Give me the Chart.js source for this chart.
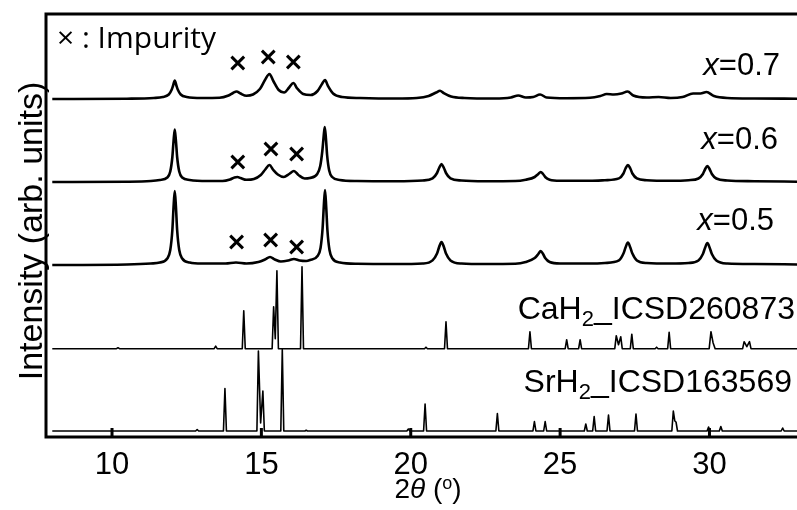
<!DOCTYPE html>
<html>
<head>
<meta charset="utf-8">
<script src="https://cdn.jsdelivr.net/npm/chart.js@4/dist/chart.umd.min.js"></script>
<style>
  html, body { margin: 0; padding: 0; background: #fff; overflow: hidden; }
  canvas { display: block; }
</style>
</head>
<body>
<canvas id="xrd" width="797" height="510"></canvas>
<script>
// 2theta range and bottom tick values
const X_MIN = 7.79;
const X_MAX = 32.93;
const xTicks = [10, 15, 20, 25, 30];

// vertical offsets of each stacked pattern
const offsets = { x07: 338, x06: 255, x05: 172, cah2: 88.3, srh2: 6 };

// measured patterns, [2theta, intensity above own baseline]
const x07 = [
  [8.0, 0], [10.5, 0.3], [11.4, 1], [11.7, 2], [11.9, 4.5], [12.0, 9.5], [12.05, 14], [12.1, 18.5],
  [12.15, 14], [12.2, 9.5], [12.3, 4.5], [12.5, 2], [13.0, 1], [13.6, 1.2], [13.9, 3.5], [14.05, 6],
  [14.17, 7.5], [14.3, 5.5], [14.5, 3.2], [14.72, 4.5], [14.95, 10], [15.12, 19], [15.27, 25],
  [15.4, 18], [15.58, 9], [15.76, 6.5], [15.93, 11.5], [16.07, 16], [16.2, 10.5], [16.4, 5],
  [16.65, 4], [16.88, 8], [17.03, 15], [17.13, 19], [17.23, 13], [17.4, 5.5], [17.7, 2], [18.3, 1],
  [19.5, 0.5], [20.2, 1], [20.6, 3], [20.85, 6.5], [20.98, 8.3], [21.1, 6], [21.35, 2.5], [21.8, 1],
  [22.8, 0.5], [23.35, 1.5], [23.6, 3.5], [23.85, 1.5], [24.1, 2], [24.33, 4.5], [24.55, 1.5],
  [25.2, 0.8], [26.0, 1.2], [26.35, 3], [26.56, 5], [26.8, 4.5], [27.05, 5.5], [27.26, 7.5],
  [27.45, 3.5], [27.9, 1.5], [28.3, 2], [28.7, 1], [29.1, 2], [29.45, 5.5], [29.7, 5.5], [29.9, 7],
  [30.15, 3], [30.6, 1], [31.5, 0.5], [33, 0.3]
];
const x06 = [
  [8.0, 0], [10.5, 0.3], [11.3, 1], [11.6, 2], [11.85, 4.5], [11.95, 10.5], [12.02, 25], [12.06, 41],
  [12.1, 52.5], [12.14, 41], [12.18, 25], [12.25, 10.5], [12.35, 4.5], [12.6, 2], [13.2, 1], [13.7, 1],
  [13.95, 2.5], [14.1, 4.5], [14.2, 5], [14.3, 4], [14.5, 2.2], [14.75, 3], [14.98, 7], [15.13, 12.5],
  [15.27, 17], [15.4, 12], [15.55, 7.5], [15.75, 5], [15.93, 8], [16.09, 11], [16.24, 7], [16.45, 3.5],
  [16.62, 4], [16.87, 8], [16.97, 16], [17.04, 31], [17.08, 44], [17.12, 55], [17.16, 44], [17.2, 27],
  [17.27, 11.5], [17.37, 5], [17.62, 2], [18.2, 1], [19.5, 0.8], [20.4, 1.5], [20.73, 3.6], [20.88, 9],
  [20.95, 14], [21.03, 18], [21.11, 14], [21.18, 9], [21.33, 3.6], [21.7, 1.5], [22.5, 0.8], [23.5, 1],
  [23.85, 2.3], [24.15, 5], [24.27, 8], [24.35, 10], [24.43, 8], [24.5, 5], [24.65, 2.3], [25.0, 1.2],
  [26.0, 1.2], [26.5, 1.8], [26.97, 3.6], [27.12, 8.5], [27.19, 13.5], [27.27, 17], [27.35, 13.5],
  [27.42, 8.5], [27.57, 3.6], [27.9, 1.8], [28.7, 1.2], [29.3, 1.8], [29.63, 3.5], [29.78, 8],
  [29.85, 12.5], [29.93, 16], [30.01, 12.5], [30.08, 8], [30.23, 3.5], [30.6, 1.5], [31.5, 0.8], [33, 0.3]
];
const x05 = [
  [8.0, 0], [10.5, 0.5], [11.3, 1.5], [11.6, 2.5], [11.85, 6.5], [11.95, 15], [12.02, 35], [12.06, 58],
  [12.1, 74], [12.14, 58], [12.18, 35], [12.25, 15], [12.35, 6.5], [12.6, 2.5], [13.0, 1.5], [13.8, 1.5],
  [14.15, 2.5], [14.5, 1.5], [14.9, 3], [15.12, 5.5], [15.29, 8], [15.45, 5.5], [15.65, 3.5], [15.9, 4.5],
  [16.09, 6], [16.28, 4.5], [16.5, 4], [16.63, 5], [16.88, 9], [16.98, 17], [17.05, 37], [17.09, 59],
  [17.13, 75], [17.17, 58], [17.21, 35], [17.28, 15], [17.38, 6.5], [17.63, 2.5], [18.2, 1.2], [19.5, 1],
  [20.4, 1.5], [20.73, 4.6], [20.88, 11.5], [20.95, 18], [21.03, 23], [21.11, 18], [21.18, 11.5],
  [21.33, 4.6], [21.7, 1.5], [22.5, 1], [23.5, 1.2], [23.85, 3], [24.15, 7], [24.27, 11], [24.35, 14],
  [24.43, 11], [24.5, 7], [24.65, 3], [25.0, 1.5], [26.0, 1.5], [26.5, 2], [26.97, 4.6], [27.12, 11.5],
  [27.19, 17.5], [27.27, 22.5], [27.35, 17.5], [27.42, 11.5], [27.57, 4.6], [27.9, 2], [28.7, 1.5],
  [29.3, 2], [29.63, 4.5], [29.78, 11], [29.85, 17], [29.93, 22], [30.01, 17], [30.08, 11], [30.23, 4.5],
  [30.6, 1.5], [31.5, 1], [33, 0.5]
];

// simulated reference patterns (ICSD)
const cah2 = [
  [8.0, 0], [10.15, 0], [10.2, 1], [10.25, 0], [13.42, 0], [13.47, 2.5], [13.52, 0], [14.36, 0],
  [14.41, 38], [14.46, 0], [15.36, 0], [15.41, 42], [15.465, 10], [15.52, 78], [15.57, 0], [16.31, 0],
  [16.36, 82], [16.41, 0], [20.46, 0], [20.51, 1.5], [20.56, 0], [21.13, 0], [21.18, 27], [21.23, 0],
  [23.94, 0], [23.99, 17], [24.04, 0], [25.17, 0], [25.22, 9], [25.27, 0], [25.62, 0], [25.67, 9],
  [25.72, 0], [26.83, 0], [26.88, 13], [26.955, 4], [27.03, 12], [27.08, 0], [27.35, 0], [27.4, 14.5],
  [27.45, 0], [28.18, 0], [28.23, 1.5], [28.28, 0], [28.6, 0], [28.65, 16.5], [28.7, 0], [29.99, 0],
  [30.05, 17], [30.12, 6], [30.19, 0], [31.11, 0], [31.16, 7], [31.25, 2], [31.34, 7], [31.39, 0], [33, 0]
];
const srh2 = [
  [8.0, 0], [12.8, 0], [12.85, 1.5], [12.9, 0], [13.73, 0], [13.78, 42.5], [13.83, 0], [14.85, 0],
  [14.9, 80], [14.975, 8], [15.05, 40], [15.1, 0], [15.65, 0], [15.7, 81.5], [15.75, 0], [16.46, 0],
  [16.5, 0.8], [16.54, 0], [19.87, 0], [19.92, 2], [19.97, 0], [20.43, 0], [20.48, 27], [20.53, 0],
  [22.85, 0], [22.9, 17.5], [22.95, 0], [24.09, 0], [24.14, 9.5], [24.19, 0], [24.45, 0], [24.5, 9.5],
  [24.55, 0], [25.81, 0], [25.86, 7], [25.91, 0], [26.09, 0], [26.14, 14.5], [26.19, 0], [26.57, 0],
  [26.62, 16], [26.67, 0], [27.49, 0], [27.54, 17], [27.59, 0], [28.74, 0], [28.79, 20], [28.84, 10],
  [28.88, 9], [28.93, 0], [29.92, 0], [29.97, 4], [30.02, 0], [30.33, 0], [30.38, 4.5], [30.43, 0],
  [32.4, 0], [32.45, 3], [32.5, 0], [33, 0]
];

// impurity peaks (x marks), [2theta, height above own baseline]
const impX07 = [[14.21, 36], [15.23, 42], [16.07, 37]];
const impX06 = [[14.21, 20], [15.32, 33], [16.18, 28]];
const impX05 = [[14.17, 23], [15.31, 25], [16.18, 18]];

const SANS = "'Liberation Sans', Arial, sans-serif";

function shift(points, off) {
  return points.map(([x, y]) => ({ x: x, y: y + off }));
}

function measured(points, off) {
  return {
    data: shift(points, off),
    borderColor: "#000",
    borderWidth: 2.6,
    pointRadius: 0,
    cubicInterpolationMode: "monotone",
    borderJoinStyle: "round",
    fill: false,
  };
}

function reference(points, off) {
  return {
    data: shift(points, off),
    borderColor: "#000",
    borderWidth: 1.6,
    pointRadius: 0,
    tension: 0,
    borderJoinStyle: "round",
    fill: false,
  };
}

function marks(points, off) {
  return {
    data: shift(points, off),
    showLine: false,
    pointStyle: "crossRot",
    pointRadius: 9,
    pointBorderWidth: 3,
    pointBorderColor: "#000",
    borderColor: "#000",
  };
}

// draws a row of text pieces (italic, sub/superscript) as one label
function drawRuns(ctx, runs, x, y, align) {
  let total = 0;
  runs.forEach((r) => {
    ctx.font = r.font;
    r.w = ctx.measureText(r.t).width;
    total += r.w;
  });
  let cx = align === "right" ? x - total : align === "center" ? x - total / 2 : x;
  runs.forEach((r) => {
    ctx.font = r.font;
    ctx.fillText(r.t, cx, y + (r.dy || 0));
    cx += r.w;
  });
}

const framePlugin = {
  id: "frame",
  afterDraw(chart) {
    const ctx = chart.ctx;
    const a = chart.chartArea;
    const xs = chart.scales.x;
    ctx.save();
    ctx.strokeStyle = "#000";
    ctx.fillStyle = "#000";
    ctx.lineWidth = 3;
    ctx.lineCap = "butt";

    // left, top and bottom axis lines
    ctx.beginPath();
    ctx.moveTo(a.left, a.top - 1.5);
    ctx.lineTo(a.left, a.bottom + 1.5);
    ctx.moveTo(a.left - 1.5, a.top);
    ctx.lineTo(a.right, a.top);
    ctx.moveTo(a.left - 1.5, a.bottom);
    ctx.lineTo(a.right, a.bottom);
    ctx.stroke();

    // inward ticks + labels
    ctx.beginPath();
    xTicks.forEach((v) => {
      const px = xs.getPixelForValue(v);
      ctx.moveTo(px, a.bottom);
      ctx.lineTo(px, a.bottom - 9);
    });
    ctx.stroke();

    ctx.textBaseline = "alphabetic";
    ctx.textAlign = "left";
    xTicks.forEach((v) => {
      drawRuns(ctx, [{ t: String(v), font: `31px ${SANS}` }], xs.getPixelForValue(v), 473.5, "center");
    });

    // axis titles
    drawRuns(ctx, [
      { t: "2", font: `28px ${SANS}` },
      { t: "θ", font: `italic 28px ${SANS}` },
      { t: " (", font: `28px ${SANS}` },
      { t: "o", font: `18px ${SANS}`, dy: -9 },
      { t: ")", font: `28px ${SANS}` },
    ], 428, 498, "center");

    ctx.save();
    ctx.translate(42, 231);
    ctx.rotate(-Math.PI / 2);
    ctx.font = `34px ${SANS}`;
    ctx.textAlign = "center";
    ctx.fillText("Intensity (arb. units)", 0, 0);
    ctx.restore();

    // pattern labels
    const curveLabel = (val, x, y) =>
      drawRuns(ctx, [
        { t: "x", font: `italic 31px ${SANS}` },
        { t: "=" + val, font: `31px ${SANS}` },
      ], x, y, "right");
    curveLabel("0.7", 780, 75);
    curveLabel("0.6", 778, 148.5);
    curveLabel("0.5", 774, 230);

    const refLabel = (el, code, x, y) =>
      drawRuns(ctx, [
        { t: el + "H", font: `32px ${SANS}` },
        { t: "2", font: `22px ${SANS}`, dy: 7 },
        { t: "_ICSD" + code, font: `32px ${SANS}` },
      ], x, y, "right");
    refLabel("Ca", "260873", 795, 318.5);
    refLabel("Sr", "163569", 792, 391.5);

    ctx.font = `30px 'Open Sans', ${SANS}`;
    ctx.fillText("× : Impurity", 57, 48);
    ctx.restore();
  },
};

new Chart(document.getElementById("xrd"), {
  type: "line",
  data: {
    datasets: [
      measured(x07, offsets.x07),
      measured(x06, offsets.x06),
      measured(x05, offsets.x05),
      reference(cah2, offsets.cah2),
      reference(srh2, offsets.srh2),
      marks(impX07, offsets.x07),
      marks(impX06, offsets.x06),
      marks(impX05, offsets.x05),
    ],
  },
  options: {
    responsive: false,
    animation: false,
    events: [],
    layout: { autoPadding: false, padding: { left: 46, top: 14, right: 0, bottom: 73 } },
    plugins: { legend: { display: false }, tooltip: { enabled: false } },
    scales: {
      x: { type: "linear", min: X_MIN, max: X_MAX, display: false },
      y: { type: "linear", min: 0, max: 423, display: false },
    },
  },
  plugins: [framePlugin],
});
</script>
</body>
</html>
